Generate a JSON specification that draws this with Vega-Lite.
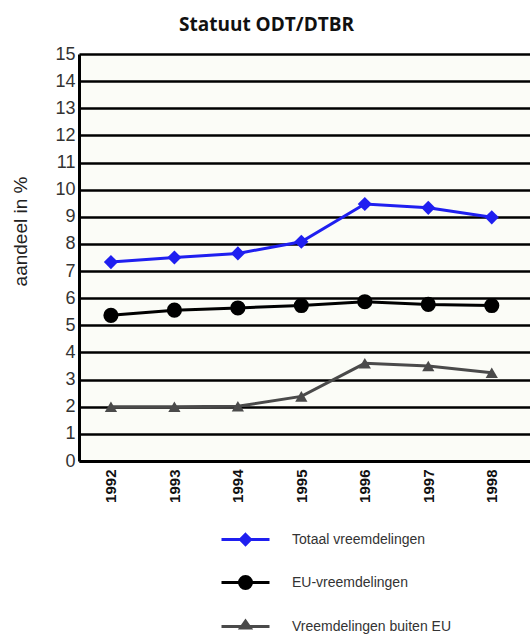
{
  "$schema": "https://vega.github.io/schema/vega-lite/v6.json",
  "autosize": "none",
  "width": 451,
  "height": 407,
  "padding": {"left": 79, "top": 54, "right": 0, "bottom": 177},
  "background": "#ffffff",
  "title": {"text": "Statuut ODT/DTBR", "font": "Open Sans", "fontSize": 19, "fontWeight": "bold", "color": "#111111", "anchor": "middle", "dx": -38, "offset": 10},
  "config": {"view": {"fill": "#fbfcf7", "stroke": null}},
  "data": {"values": [
    {"jaar": "1992", "reeks": "Totaal vreemdelingen", "waarde": 7.33},
    {"jaar": "1993", "reeks": "Totaal vreemdelingen", "waarde": 7.5},
    {"jaar": "1994", "reeks": "Totaal vreemdelingen", "waarde": 7.65},
    {"jaar": "1995", "reeks": "Totaal vreemdelingen", "waarde": 8.08},
    {"jaar": "1996", "reeks": "Totaal vreemdelingen", "waarde": 9.47},
    {"jaar": "1997", "reeks": "Totaal vreemdelingen", "waarde": 9.33},
    {"jaar": "1998", "reeks": "Totaal vreemdelingen", "waarde": 8.98},
    {"jaar": "1992", "reeks": "EU-vreemdelingen", "waarde": 5.37},
    {"jaar": "1993", "reeks": "EU-vreemdelingen", "waarde": 5.56},
    {"jaar": "1994", "reeks": "EU-vreemdelingen", "waarde": 5.64},
    {"jaar": "1995", "reeks": "EU-vreemdelingen", "waarde": 5.73},
    {"jaar": "1996", "reeks": "EU-vreemdelingen", "waarde": 5.87},
    {"jaar": "1997", "reeks": "EU-vreemdelingen", "waarde": 5.77},
    {"jaar": "1998", "reeks": "EU-vreemdelingen", "waarde": 5.73},
    {"jaar": "1992", "reeks": "Vreemdelingen buiten EU", "waarde": 2.0},
    {"jaar": "1993", "reeks": "Vreemdelingen buiten EU", "waarde": 2.0},
    {"jaar": "1994", "reeks": "Vreemdelingen buiten EU", "waarde": 2.02},
    {"jaar": "1995", "reeks": "Vreemdelingen buiten EU", "waarde": 2.38},
    {"jaar": "1996", "reeks": "Vreemdelingen buiten EU", "waarde": 3.6},
    {"jaar": "1997", "reeks": "Vreemdelingen buiten EU", "waarde": 3.5},
    {"jaar": "1998", "reeks": "Vreemdelingen buiten EU", "waarde": 3.25}
  ]},
  "encoding": {
    "x": {"field": "jaar", "type": "ordinal",
      "scale": {"type": "point", "padding": 0.553, "align": 0.455},
      "axis": {"title": null, "labelAngle": -90, "labelFont": "Liberation Sans", "labelFontWeight": "bold", "labelFontSize": 15, "labelColor": "#111111", "labelPadding": 8, "ticks": false, "domainColor": "#000000", "domainWidth": 3, "grid": false}},
    "y": {"field": "waarde", "type": "quantitative",
      "scale": {"domain": [0, 15], "nice": false, "zero": true},
      "axis": {"title": "aandeel in %", "titleFont": "Liberation Sans", "titleFontSize": 19, "titleFontWeight": "normal", "titleColor": "#222222", "titleX": -59, "titleY": 177, "titleAngle": -90, "titleBaseline": "middle", "titleAlign": "center",
        "values": [0,1,2,3,4,5,6,7,8,9,10,11,12,13,14,15], "labelFont": "Liberation Sans", "labelFontSize": 18, "labelColor": "#333333", "labelPadding": 4, "ticks": false,
        "grid": true, "gridColor": "#000000", "gridWidth": 2.5, "gridOpacity": 1, "domainColor": "#000000", "domainWidth": 3}}
  },
  "layer": [
    {"mark": {"type": "line", "strokeWidth": 3},
     "encoding": {"color": {"field": "reeks", "type": "nominal",
       "scale": {"domain": ["Totaal vreemdelingen", "EU-vreemdelingen", "Vreemdelingen buiten EU"], "range": ["#1f1ff0", "#000000", "#4a4a4a"]},
       "legend": {"orient": "none", "legendX": 153, "legendY": 472, "title": null, "padding": 0,
         "labelFont": "Liberation Sans", "labelFontSize": 14, "labelColor": "#333333", "labelOffset": 33, "rowPadding": 18, "symbolSize": 576, "symbolStrokeWidth": 3,
         "encode": {"symbols": {"update": {
           "shape": {"signal": "datum.value === 'Totaal vreemdelingen' ? 'M-2,0H2M0,-0.42L0.42,0L0,0.42L-0.42,0Z' : datum.value === 'EU-vreemdelingen' ? 'M-2,0H2M-0.5,0A0.5,0.5,0,1,1,0.5,0A0.5,0.5,0,1,1,-0.5,0Z' : 'M-2,0H2M0,-0.45L0.4,0.12L-0.4,0.12Z'"},
           "fill": {"signal": "datum.value === 'Totaal vreemdelingen' ? '#1f1ff0' : datum.value === 'EU-vreemdelingen' ? '#000000' : '#4a4a4a'"},
           "stroke": {"signal": "datum.value === 'Totaal vreemdelingen' ? '#1f1ff0' : datum.value === 'EU-vreemdelingen' ? '#000000' : '#4a4a4a'"},
           "strokeWidth": {"value": 3},
           "opacity": {"value": 1}
         }}}}}}},
    {"transform": [{"filter": "datum.reeks === 'Totaal vreemdelingen'"}],
     "mark": {"type": "point", "filled": true, "opacity": 1, "shape": "diamond", "size": 200, "color": "#1f1ff0"}},
    {"transform": [{"filter": "datum.reeks === 'EU-vreemdelingen'"}],
     "mark": {"type": "point", "filled": true, "opacity": 1, "shape": "circle", "size": 230, "color": "#000000"}},
    {"transform": [{"filter": "datum.reeks === 'Vreemdelingen buiten EU'"}],
     "mark": {"type": "point", "filled": true, "opacity": 1, "shape": "triangle-up", "size": 150, "color": "#4a4a4a"}}
  ]
}
